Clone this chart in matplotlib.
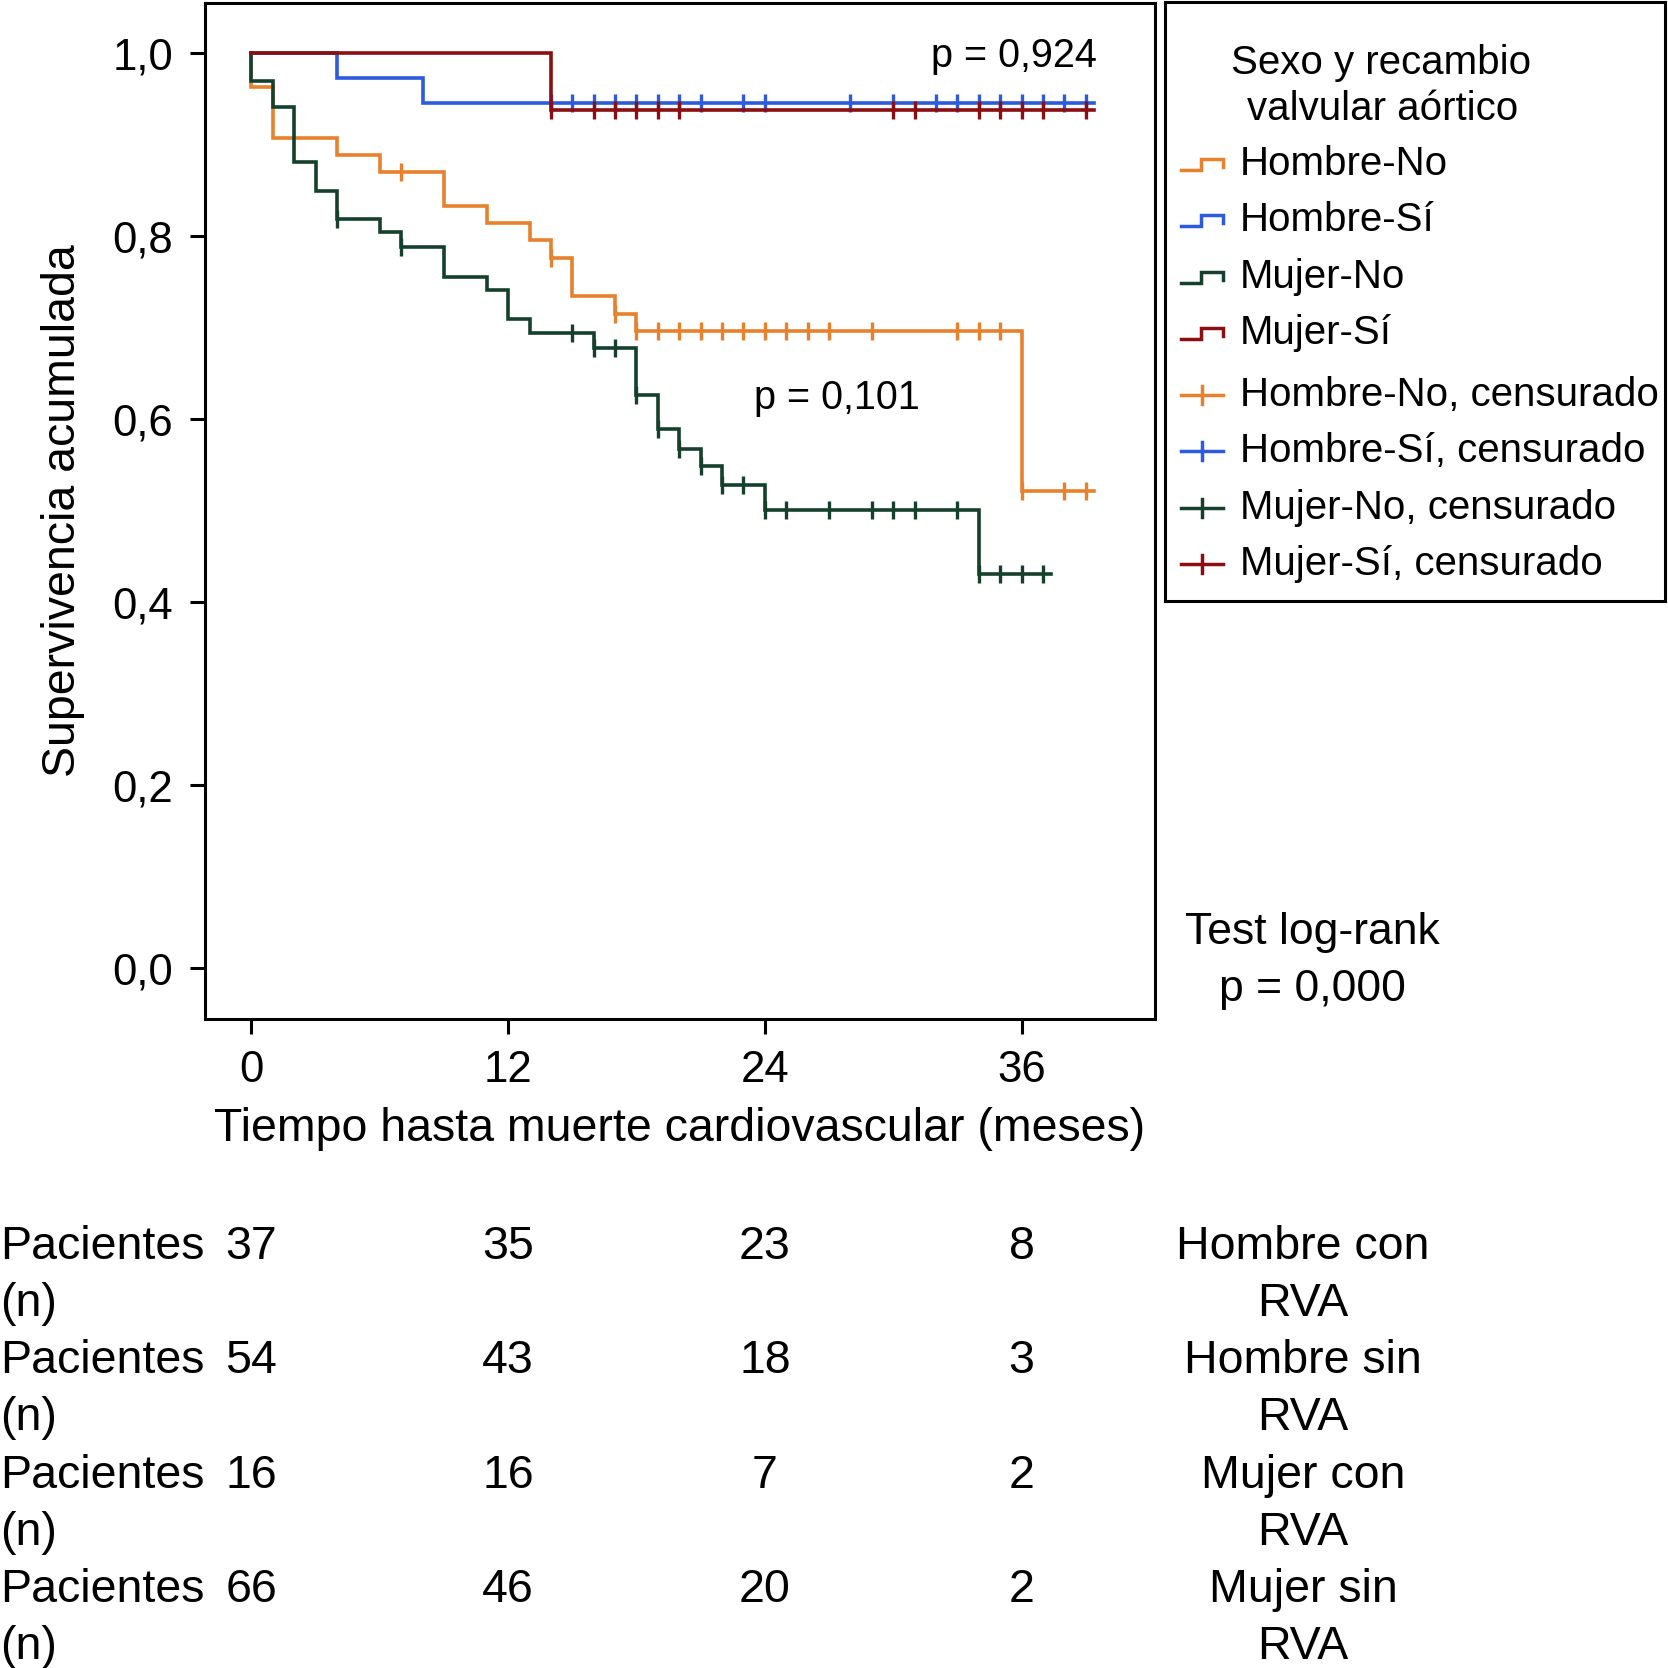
import numpy as np
import matplotlib
matplotlib.use('Agg')
import matplotlib.pyplot as plt

plt.rcParams['font.family'] = ['Liberation Sans', 'DejaVu Sans']

# Kaplan-Meier steps (time in months, cumulative survival)
hn_t = [0, 0, 1, 4, 6, 9, 11, 13, 14, 15, 17, 18, 36, 39.4]
hn_s = [1.0, 0.963, 0.907, 0.889, 0.870, 0.833, 0.815, 0.796, 0.776, 0.735, 0.715, 0.696, 0.522, 0.522]
hn_c = [7, 14, 17, 18, 19, 20, 21, 22, 23, 24, 25, 26, 27, 29, 33, 34, 35, 36, 38, 39]

hs_t = [0, 4, 8, 39.4]
hs_s = [1.0, 0.973, 0.946, 0.946]
hs_c = [14, 15, 16, 17, 18, 19, 20, 21, 23, 24, 28, 30, 32, 33, 34, 35, 36, 37, 38, 39]

mn_t = [0, 0, 1, 2, 3, 4, 6, 7, 9, 11, 12, 13, 16, 18, 19, 20, 21, 22, 24, 34, 37.4]
mn_s = [1.0, 0.970, 0.941, 0.881, 0.850, 0.819, 0.805, 0.788, 0.756, 0.741, 0.710, 0.694,
        0.678, 0.627, 0.589, 0.568, 0.549, 0.528, 0.501, 0.431, 0.431]
mn_c = [4, 7, 15, 16, 17, 18, 19, 20, 21, 22, 23, 24, 25, 27, 29, 30, 31, 33, 34, 35, 36, 37]

ms_t = [0, 14, 39.4]
ms_s = [1.0, 0.9375, 0.9375]
ms_c = [14, 16, 17, 18, 19, 20, 30, 31, 34, 35, 36, 37, 39]

groups = ['Hombre-No', 'Hombre-Sí', 'Mujer-No', 'Mujer-Sí']
colors = ['#E8812E', '#2D5BDD', '#15402C', '#8A0E12']

xticks = [0, 12, 24, 36]
yticks = [0.0, 0.2, 0.4, 0.6, 0.8, 1.0]
ytick_labels = ['0,0', '0,2', '0,4', '0,6', '0,8', '1,0']

risk_rows = ['Hombre con\nRVA', 'Hombre sin\nRVA', 'Mujer con\nRVA', 'Mujer sin\nRVA']
risk_counts = [[37, 35, 23, 8], [54, 43, 18, 3], [16, 16, 7, 2], [66, 46, 20, 2]]

W = 1668
fig = plt.figure(figsize=(16.68, 16.68), dpi=100)
ax = fig.add_axes([205 / W, 1 - 1019 / W, 950 / W, (1019 - 2.7) / W])

curves = [(hn_t, hn_s, hn_c), (hs_t, hs_s, hs_c), (mn_t, mn_s, mn_c), (ms_t, ms_s, ms_c)]
for (t, s, c), col in zip(curves, colors):
    t = np.array(t)
    s = np.array(s)
    ax.step(t, s, where='post', color=col, lw=2.6, solid_joinstyle='miter')
    idx = np.searchsorted(t, c, side='right') - 1
    ax.plot(c, s[idx], ls='none', marker='|', ms=13, mew=2.4, color=col)

ax.set_xlim(-2.17, 42.24)
ax.set_ylim(-0.0554, 1.0553)
ax.set_xticks(xticks)
ax.set_xticklabels([str(v) for v in xticks])
ax.set_yticks(yticks)
ax.set_yticklabels(ytick_labels)
ax.tick_params(axis='both', labelsize=31.5, width=2.2, length=11)
ax.tick_params(axis='y', pad=12)
ax.tick_params(axis='x', pad=11)
for sp in ax.spines.values():
    sp.set_linewidth(2.2)

ax.set_xlabel('Tiempo hasta muerte cardiovascular (meses)', fontsize=33.5)
ax.xaxis.set_label_coords(0.5, -0.087)
ax.xaxis.label.set_va('top')
ax.set_ylabel('Supervivencia acumulada', fontsize=33.5)
ax.yaxis.set_label_coords(-0.126, 0.5)

ax.text(39.5, 0.997, 'p = 0,924', fontsize=28.5, ha='right', va='center')
ax.text(23.5, 0.623, 'p = 0,101', fontsize=28.5, ha='left', va='center')

fig.text(1312 / W, 1 - 933 / W, 'Test log-rank', fontsize=32, ha='center', va='center')
fig.text(1312 / W, 1 - 989 / W, 'p = 0,000', fontsize=32, ha='center', va='center')

# legend panel drawn in pixel coordinates
lax = fig.add_axes([1165 / W, 1 - 601 / W, (1665 - 1165) / W, (601 - 2) / W])
lax.set_xlim(1165, 1665)
lax.set_ylim(601, 2)
lax.set_xticks([])
lax.set_yticks([])
for sp in lax.spines.values():
    sp.set_linewidth(2.2)
lax.text(1381, 63, 'Sexo y recambio', fontsize=29, ha='center', va='center')
lax.text(1383, 109, 'valvular aórtico', fontsize=29, ha='center', va='center')
row_y = [164, 220, 277, 333, 395, 451, 508, 564]
for i, (g, col) in enumerate(zip(groups, colors)):
    y = row_y[i]
    lax.plot([1181, 1201, 1201, 1223, 1223], [y + 6, y + 6, y - 5, y - 5, y + 3],
             color=col, lw=2.5, solid_joinstyle='miter')
    lax.text(1240, y, g, fontsize=29, ha='left', va='center')
    y = row_y[i + 4]
    lax.plot([1181, 1223], [y, y], color=col, lw=2.5)
    lax.plot([1202, 1202], [y - 9, y + 9], color=col, lw=2.5)
    lax.text(1240, y, g + ', censurado', fontsize=29, ha='left', va='center')

# numbers at risk
tr = matplotlib.transforms.blended_transform_factory(ax.transData, fig.transFigure)
base = [1259, 1373, 1488, 1602]
for r, (lab, counts) in enumerate(zip(risk_rows, risk_counts)):
    yb = base[r]
    fig.text(0.0, 1 - yb / W, 'Pacientes', fontsize=33.5, ha='left', va='baseline')
    fig.text(0.0, 1 - (yb + 57) / W, '(n)', fontsize=33.5, ha='left', va='baseline')
    for x, n in zip(xticks, counts):
        ax.text(x, 1 - yb / W, str(n), transform=tr, fontsize=33.5, ha='center', va='baseline')
    l1, l2 = lab.split('\n')
    fig.text(1303 / W, 1 - yb / W, l1, fontsize=33.5, ha='center', va='baseline')
    fig.text(1303 / W, 1 - (yb + 57) / W, l2, fontsize=33.5, ha='center', va='baseline')

fig.savefig('out.png', dpi=100)
